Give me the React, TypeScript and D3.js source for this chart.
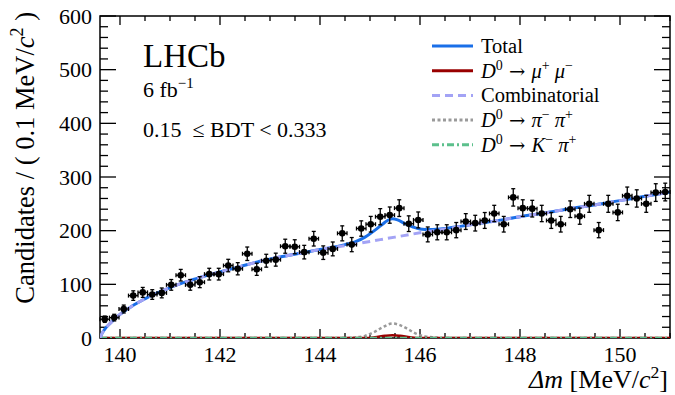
import { useEffect, useRef } from 'react';
import * as d3 from 'd3';

// histogram: 60 bins of 0.19 MeV starting at 139.6
const binLow = 139.6;
const binWidth = 0.19;
const counts = [
  35, 38, 54, 79, 85, 81, 84, 99, 117, 99,
  104, 119, 119, 135, 129, 157, 128, 144, 146, 171,
  170, 160, 185, 159, 166, 195, 174, 204, 212, 226,
  229, 242, 213, 220, 193, 197, 197, 201, 217, 214,
  219, 232, 212, 262, 242, 241, 232, 219, 212, 240,
  227, 250, 201, 250, 234, 265, 260, 250, 271, 272,
];

// fit components
const combX = [139.6, 139.65, 139.7, 139.8, 139.9, 140.0, 140.2, 140.4, 140.6, 140.8, 141.0, 141.2, 141.4, 141.6, 142.0, 142.4, 142.8, 143.2, 143.6, 144.0, 144.5, 145.0, 145.5, 146.0, 146.5, 147.0, 147.5, 148.0, 148.5, 149.0, 149.5, 150.0, 150.5, 151.0];
const combY = [0, 10, 17, 27, 36, 44, 57, 68, 78, 86, 94, 101, 107, 113, 123, 133, 143, 151, 158, 165, 172, 180, 188, 196, 203, 211, 218, 226, 233, 241, 248, 256, 264, 272];

const totalX = [139.6, 139.65, 139.7, 139.8, 139.9, 140.0, 140.2, 140.4, 140.6, 140.8, 141.0, 141.2, 141.4, 141.6, 142.0, 142.4, 142.8, 143.2, 143.6, 144.0, 144.2, 144.5, 144.7, 144.9, 145.1, 145.25, 145.35, 145.45, 145.55, 145.7, 145.85, 146.0, 146.2, 146.5, 146.8, 147.0, 147.5, 148.0, 148.5, 149.0, 149.5, 150.0, 150.5, 151.0];
const totalY = [0, 10, 17, 27, 36, 44, 57, 68, 78, 86, 94, 101, 107, 113, 123, 133, 143, 151, 158, 165, 168, 174, 179, 188, 201, 212, 219, 222, 220, 213, 207, 203, 202, 204, 208, 211, 218, 226, 233, 241, 248, 256, 264, 272];

const pipiX = [139.6, 144.5, 144.7, 144.9, 145.1, 145.25, 145.45, 145.6, 145.75, 145.9, 146.1, 146.3, 146.5, 151.0];
const pipiY = [0, 0, 1, 4, 12, 20, 27, 24, 17, 9, 3, 1, 0, 0];

const mumuX = [139.6, 144.9, 145.1, 145.3, 145.45, 145.6, 145.8, 146.0, 151.0];
const mumuY = [0, 0, 1.5, 4, 5, 4, 1.5, 0, 0];

const kpiX = [139.6, 151.0];
const kpiY = [0, 0];

const xTicks = [140, 142, 144, 146, 148, 150];
const yTicks = [0, 100, 200, 300, 400, 500, 600];

type Seg = { t: string; it?: boolean; sup?: boolean; arrow?: boolean };

function rich(sel: any, segs: Seg[], fs: number) {
  let raised = false;
  segs.forEach((s) => {
    const ts = sel.append('tspan').text(s.t);
    if (s.it) ts.attr('font-style', 'italic');
    if (s.arrow) ts.attr('font-family', '"DejaVu Serif", serif').attr('font-size', fs * 0.95);
    if (s.sup && !raised) {
      ts.attr('dy', -0.4 * fs);
      raised = true;
    } else if (!s.sup && raised) {
      ts.attr('dy', 0.4 * fs);
      raised = false;
    }
    if (s.sup) ts.attr('font-size', 0.68 * fs);
  });
}

export default function App() {
  const svgRef = useRef<SVGSVGElement>(null);

  useEffect(() => {
    if (!svgRef.current) return;
    const width = 675;
    const height = 395;
    const margin = { top: 16, right: 5, bottom: 57, left: 100 };
    const font = '"Liberation Serif", "Times New Roman", serif';

    const svg = d3.select(svgRef.current);
    svg.selectAll('*').remove();
    svg.attr('font-family', font);

    const x = d3.scaleLinear().domain([139.6, 151.0]).range([margin.left, width - margin.right]);
    const y = d3.scaleLinear().domain([0, 600]).range([height - margin.bottom, margin.top]);
    const [x0, x1] = x.range();
    const [y0, y1] = y.range();

    svg.append('rect').attr('width', width).attr('height', height).attr('fill', '#fff');

    svg.append('defs').append('clipPath').attr('id', 'plot')
      .append('rect').attr('x', x0).attr('y', y1).attr('width', x1 - x0).attr('height', y0 - y1);

    // frame + ticks
    const axis = svg.append('g').attr('stroke', '#000').attr('stroke-width', 1.3);
    axis.append('rect').attr('x', x0).attr('y', y1).attr('width', x1 - x0).attr('height', y0 - y1)
      .attr('fill', 'none').attr('stroke-width', 1.5);
    d3.range(140, 151.01, 0.5).forEach((v) => {
      const major = Math.abs(v / 2 - Math.round(v / 2)) < 1e-6;
      const len = major ? 9 : 5;
      axis.append('line').attr('x1', x(v)).attr('x2', x(v)).attr('y1', y0).attr('y2', y0 - len);
      axis.append('line').attr('x1', x(v)).attr('x2', x(v)).attr('y1', y1).attr('y2', y1 + len);
    });
    d3.range(0, 601, 20).forEach((v) => {
      const len = v % 100 === 0 ? 16 : 8;
      axis.append('line').attr('x1', x0).attr('x2', x0 + len).attr('y1', y(v)).attr('y2', y(v));
      axis.append('line').attr('x1', x1).attr('x2', x1 - len).attr('y1', y(v)).attr('y2', y(v));
    });

    // tick labels
    svg.append('g').selectAll('text').data(yTicks).enter().append('text')
      .attr('x', 92).attr('y', (d) => y(d) + 7.5)
      .attr('text-anchor', 'end').attr('font-size', 22).text((d) => d);
    svg.append('g').selectAll('text').data(xTicks).enter().append('text')
      .attr('x', (d) => x(d)).attr('y', 362)
      .attr('text-anchor', 'middle').attr('font-size', 22).text((d) => d);

    // axis titles
    const xt = svg.append('text').attr('x', 668).attr('y', 388).attr('text-anchor', 'end').attr('font-size', 26);
    rich(xt, [{ t: 'Δm', it: true }, { t: ' [MeV/' }, { t: 'c', it: true }, { t: '2', sup: true }, { t: ']' }], 26);
    const yt = svg.append('text').attr('transform', 'translate(34,12) rotate(-90)')
      .attr('text-anchor', 'end').attr('font-size', 26.5);
    rich(yt, [{ t: 'Candidates / ( 0.1 MeV/' }, { t: 'c', it: true }, { t: '2', sup: true }, { t: ' )' }], 26.5);

    // fit curves
    const plot = svg.append('g').attr('clip-path', 'url(#plot)');
    const line = d3.line<[number, number]>()
      .x((d) => x(d[0]))
      .y((d) => y(d[1]))
      .curve(d3.curveMonotoneX);
    const zip = (xs: number[], ys: number[]) => xs.map((v, i) => [v, ys[i]] as [number, number]);

    plot.append('path').attr('d', line(zip(pipiX, pipiY))).attr('fill', 'none')
      .attr('stroke', '#9a9a9a').attr('stroke-width', 2.5).attr('stroke-dasharray', '3,2.5');
    plot.append('path').attr('d', line(zip(mumuX, mumuY))).attr('fill', 'none')
      .attr('stroke', '#990000').attr('stroke-width', 2.5);
    plot.append('path').attr('d', line(zip(kpiX, kpiY))).attr('fill', 'none')
      .attr('stroke', '#5cc08c').attr('stroke-width', 2.5).attr('stroke-dasharray', '7,3,2,3');
    plot.append('path').attr('d', line(zip(totalX, totalY))).attr('fill', 'none')
      .attr('stroke', '#1a6fe8').attr('stroke-width', 3);
    plot.append('path').attr('d', line(zip(combX, combY))).attr('fill', 'none')
      .attr('stroke', '#a3a3f5').attr('stroke-width', 3).attr('stroke-dasharray', '8,5');

    // data points
    const pts = svg.append('g').attr('stroke', '#000').attr('stroke-width', 1.3);
    counts.forEach((c, i) => {
      const lo = binLow + i * binWidth;
      const cx = x(lo + binWidth / 2);
      const cy = y(c);
      const e = Math.sqrt(c);
      const ya = y(c + e);
      const yb = y(c - e);
      const xa = x(lo);
      const xb = x(lo + binWidth);
      pts.append('line').attr('x1', cx).attr('x2', cx).attr('y1', ya).attr('y2', yb);
      pts.append('line').attr('x1', xa).attr('x2', xb).attr('y1', cy).attr('y2', cy);
      pts.append('line').attr('x1', cx - 2).attr('x2', cx + 2).attr('y1', ya).attr('y2', ya);
      pts.append('line').attr('x1', cx - 2).attr('x2', cx + 2).attr('y1', yb).attr('y2', yb);
      pts.append('line').attr('x1', xa).attr('x2', xa).attr('y1', cy - 2).attr('y2', cy + 2);
      pts.append('line').attr('x1', xb).attr('x2', xb).attr('y1', cy - 2).attr('y2', cy + 2);
      pts.append('circle').attr('cx', cx).attr('cy', cy).attr('r', 3.3).attr('fill', '#000').attr('stroke', 'none');
    });

    // labels
    svg.append('text').attr('x', 143).attr('y', 67).attr('font-size', 33).text('LHCb');
    const lumi = svg.append('text').attr('x', 143).attr('y', 97).attr('font-size', 22);
    rich(lumi, [{ t: '6 fb' }, { t: '−1', sup: true }], 22);
    svg.append('text').attr('x', 143).attr('y', 137).attr('font-size', 22).text('0.15 \u00a0≤ BDT < 0.333');

    // legend
    const arrow: Seg = { t: ' → ', arrow: true };
    const legend = [
      { segs: [{ t: 'Total' }] as Seg[], color: '#1a6fe8', dash: null as string | null },
      { segs: [{ t: 'D', it: true }, { t: '0', sup: true }, arrow, { t: 'μ', it: true }, { t: '+', sup: true }, { t: ' ' }, { t: 'μ', it: true }, { t: '−', sup: true }], color: '#990000', dash: null },
      { segs: [{ t: 'Combinatorial' }], color: '#a3a3f5', dash: '8,5' },
      { segs: [{ t: 'D', it: true }, { t: '0', sup: true }, arrow, { t: 'π', it: true }, { t: '−', sup: true }, { t: ' ' }, { t: 'π', it: true }, { t: '+', sup: true }], color: '#9a9a9a', dash: '3,2.5' },
      { segs: [{ t: 'D', it: true }, { t: '0', sup: true }, arrow, { t: 'K', it: true }, { t: '−', sup: true }, { t: ' ' }, { t: 'π', it: true }, { t: '+', sup: true }], color: '#5cc08c', dash: '7,3,2,3' },
    ];
    legend.forEach((l, i) => {
      const cy = 46 + i * 24.7;
      const ln = svg.append('line').attr('x1', 432).attr('x2', 473).attr('y1', cy).attr('y2', cy)
        .attr('stroke', l.color).attr('stroke-width', 3);
      if (l.dash) ln.attr('stroke-dasharray', l.dash);
      const t = svg.append('text').attr('x', 481).attr('y', cy + 7).attr('font-size', 20.5);
      rich(t, l.segs, 20.5);
    });
  }, []);

  return (
    <svg
      ref={svgRef}
      width={675}
      height={395}
      style={{ position: 'absolute', left: 0, top: 0 }}
    />
  );
}
